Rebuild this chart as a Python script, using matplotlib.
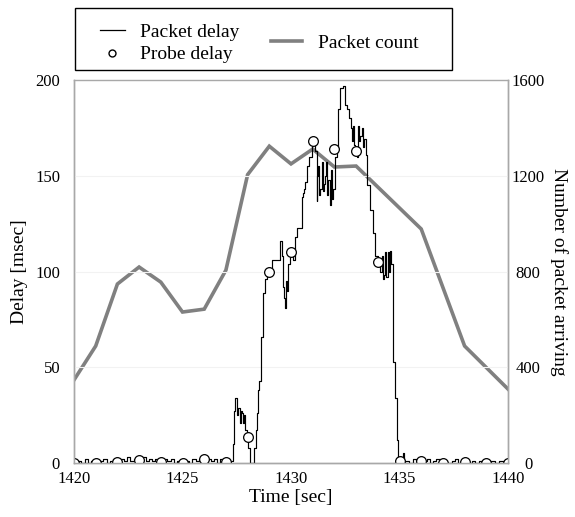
import matplotlib
matplotlib.use("Agg")
import matplotlib.pyplot as plt
from matplotlib.lines import Line2D
from matplotlib.patches import Rectangle

plt.rcParams['font.family'] = ['Liberation Serif', 'DejaVu Serif']

# Packet count per second (right axis)
count_t = [1420, 1421, 1422, 1423, 1424, 1425, 1426, 1427, 1428, 1429,
           1430, 1431, 1432, 1433, 1436, 1438, 1440]
count_v = [347, 489, 748, 819, 756, 631, 643, 806, 1205, 1324,
           1250, 1312, 1237, 1241, 978, 489, 309]

# Probe delay, one probe per second
probe_t = [1420, 1421, 1422, 1423, 1424, 1425, 1426, 1427, 1428, 1429, 1430,
           1431, 1432, 1433, 1434, 1435, 1436, 1437, 1438, 1439, 1440]
probe_v = [0, 0, 0.5, 1.5, 0.5, 0, 2, 0.5, 13.6, 100, 110,
           168, 164, 163, 105, 1, 1, 0, 0.5, 0, 0]

# Packet delay (step trace)
delay_t = [1420.0, 1420.15, 1420.3, 1420.5, 1420.65, 1420.8, 1421.0, 1421.2,
           1421.35, 1421.5, 1421.65, 1421.8, 1422.0, 1422.15, 1422.3, 1422.45,
           1422.6, 1422.75, 1422.9, 1423.0, 1423.15, 1423.3, 1423.45, 1423.6,
           1423.75, 1423.9, 1424.0, 1424.15, 1424.3, 1424.45, 1424.6, 1424.75,
           1424.9, 1425.0, 1425.15, 1425.3, 1425.45, 1425.6, 1425.75, 1425.9,
           1426.0, 1426.15, 1426.3, 1426.45, 1426.6, 1426.75, 1426.9, 1427.0,
           1427.15, 1427.31, 1427.37, 1427.44, 1427.50, 1427.53, 1427.56,
           1427.65, 1427.69, 1427.73, 1427.79, 1427.84, 1427.88, 1427.96,
           1428.02, 1428.11, 1428.25, 1428.29, 1428.39, 1428.45, 1428.49,
           1428.54, 1428.62, 1428.70, 1428.80, 1428.90, 1429.0, 1429.11,
           1429.34, 1429.49, 1429.60, 1429.63, 1429.68, 1429.72, 1429.76,
           1429.80, 1429.88, 1429.95, 1430.0, 1430.1, 1430.18, 1430.28,
           1430.38, 1430.49, 1430.57, 1430.60, 1430.65, 1430.72, 1430.84,
           1430.95, 1431.0, 1431.11, 1431.18, 1431.22, 1431.26, 1431.30,
           1431.34, 1431.41, 1431.46, 1431.52, 1431.57, 1431.61, 1431.66,
           1431.72, 1431.78, 1431.83, 1431.88, 1431.92, 1432.03, 1432.1,
           1432.18, 1432.26, 1432.38, 1432.49, 1432.6, 1432.69, 1432.75,
           1432.80, 1432.84, 1432.9, 1432.95, 1433.03, 1433.1, 1433.15,
           1433.20, 1433.26, 1433.31, 1433.36, 1433.46, 1433.52, 1433.64,
           1433.78, 1433.87, 1434.0, 1434.1, 1434.2, 1434.25, 1434.3, 1434.35,
           1434.4, 1434.45, 1434.5, 1434.55, 1434.6, 1434.68, 1434.72, 1434.8,
           1434.88, 1434.92, 1435.15, 1435.2, 1435.25, 1435.45, 1435.6,
           1435.75, 1435.9, 1436.1, 1436.25, 1436.4, 1436.55, 1436.7,
           1436.85, 1437.0, 1437.2, 1437.4, 1437.55, 1437.7, 1437.85, 1438.0,
           1438.2, 1438.35, 1438.5, 1438.65, 1438.8, 1439.0, 1439.2, 1439.4,
           1439.6, 1439.8, 1440.0]
delay_v = [0, 1, 0, 2, 0, 1, 0, 1,
           2, 0, 1, 2, 1, 2, 1, 3,
           1, 2, 0, 2, 3, 1, 2, 1,
           2, 0, 1, 2, 1, 2, 0, 1,
           0, 0, 1, 0, 2, 1, 2, 0,
           1, 2, 1, 2, 0, 2, 1, 0,
           1, 10, 27, 34, 30, 25, 29,
           21, 27, 26, 21, 25, 17, 13,
           8, 0, 0, 8, 17, 26, 38,
           43, 66, 89, 96, 98, 100, 106,
           106, 116, 108, 92, 86, 81, 95,
           90, 104, 111, 110, 106, 118, 123,
           123, 139, 141, 143, 147, 155, 160,
           166, 168, 163, 137, 150, 155, 140,
           143, 157, 142, 146, 150, 157, 140,
           148, 135, 153, 138, 143, 160, 164,
           185, 196, 197, 187, 185, 180, 175,
           168, 176, 166, 163, 160, 176, 168,
           171, 175, 165, 169, 161, 145, 132,
           120, 108, 105, 100, 108, 96, 98, 110,
           97, 110, 100, 111, 104, 71, 53, 34,
           12, 0, 5, 0, 1, 0, 2,
           1, 0, 1, 2, 0, 1, 2,
           0, 1, 0, 1, 2, 0, 1, 0,
           0, 1, 0, 1, 0, 0, 1, 0,
           1, 0, 0]

fig = plt.figure(figsize=(5.75, 5.17), dpi=100)
ax = fig.add_axes([0.1287, 0.1044, 0.7548, 0.7406])
ax2 = ax.twinx()
ax.set_zorder(ax2.get_zorder() + 1)
ax.patch.set_visible(False)

ax2.plot(count_t, count_v, color='#808080', lw=2.6, solid_joinstyle='miter')
ax.plot(delay_t, delay_v, color='black', lw=0.85, drawstyle='steps-post')
ax.plot(probe_t, probe_v, 'o', ms=7, mfc='white', mec='black', mew=0.9)

ax.set_xlim(1420, 1440)
ax.set_ylim(0, 200)
ax2.set_ylim(0, 1600)
ax.set_xticks([1420, 1425, 1430, 1435, 1440])
ax.set_yticks([0, 50, 100, 150, 200])
ax2.set_yticks([0, 400, 800, 1200, 1600])
ax.grid(axis='y', color='#f2f2f2', lw=0.8)
ax.set_axisbelow(True)

for a in (ax, ax2):
    for s in a.spines.values():
        s.set_color('#a8a8a8')
        s.set_linewidth(1.0)
    a.tick_params(length=0, labelsize=12, pad=10)
ax2.spines['top'].set_visible(False)
# right tick labels are centred under each other
ax2.tick_params(pad=14.5)
for lab in ax2.get_yticklabels():
    lab.set_horizontalalignment('center')
ax.tick_params(axis='x', pad=6)

ax.set_xlabel('Time [sec]', fontsize=14, labelpad=1)
ax.set_ylabel('Delay [msec]', fontsize=14, labelpad=5)
ax2.set_ylabel('Number of packet arriving', fontsize=14, rotation=270,
               va='bottom', labelpad=4)

# legend box above the axes
fig.patches.append(Rectangle((0.130, 0.865), 0.656, 0.12,
                             transform=fig.transFigure, fill=False,
                             edgecolor='black', lw=1.0))
h1 = [Line2D([], [], color='black', lw=0.9),
      Line2D([], [], ls='none', marker='o', ms=5, mfc='white', mec='black')]
fig.legend(h1, ['Packet delay', 'Probe delay'], loc='center',
           bbox_to_anchor=(0.295, 0.916), frameon=False, fontsize=14,
           handlelength=1.3, handletextpad=0.8, labelspacing=0.25)
h2 = [Line2D([], [], color='#808080', lw=2.6)]
fig.legend(h2, ['Packet count'], loc='center',
           bbox_to_anchor=(0.60, 0.917), frameon=False, fontsize=14,
           handlelength=1.6, handletextpad=0.8)

fig.savefig('out.png', dpi=100)
